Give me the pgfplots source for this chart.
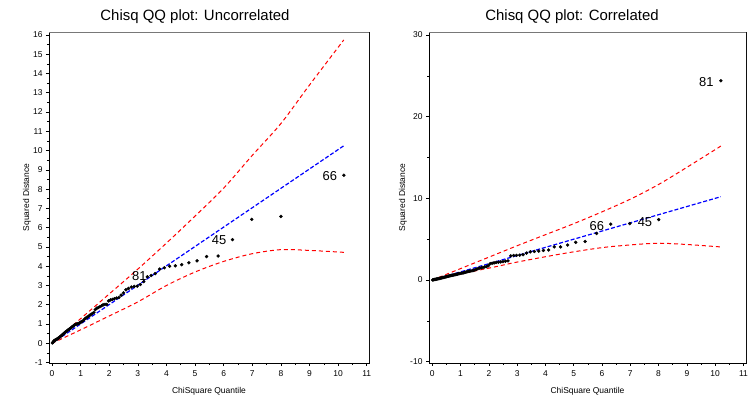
\documentclass[border=0pt]{standalone}
\usepackage{pgfplots}
\pgfplotsset{compat=1.18}
\usepackage{fontspec}
\setmainfont{Liberation Sans}
\definecolor{framegray}{RGB}{120,120,120}
\definecolor{qqred}{RGB}{255,0,0}
\definecolor{qqblue}{RGB}{0,0,255}
\pgfplotstableread{
x y
0.0125 0.02
0.037 0.06
0.062 0.12
0.087 0.15
0.113 0.17
0.139 0.19
0.165 0.21
0.192 0.24
0.219 0.27
0.247 0.30
0.274 0.33
0.302 0.37
0.331 0.40
0.360 0.44
0.389 0.48
0.419 0.52
0.450 0.56
0.480 0.60
0.512 0.63
0.543 0.67
0.576 0.71
0.608 0.74
0.642 0.78
0.676 0.82
0.710 0.87
0.745 0.90
0.781 0.95
0.817 0.98
0.854 1.00
0.892 1.01
0.930 1.03
0.970 1.06
1.010 1.10
1.050 1.14
1.092 1.18
1.135 1.25
1.178 1.30
1.222 1.35
1.268 1.40
1.315 1.45
1.362 1.50
1.411 1.55
1.461 1.60
1.512 1.75
1.565 1.82
1.619 1.86
1.674 1.90
1.732 1.95
1.790 2.00
1.851 2.02
1.914 2.02
1.978 2.20
2.045 2.25
2.114 2.28
2.185 2.32
2.259 2.35
2.336 2.38
2.416 2.50
2.499 2.62
2.586 2.78
2.677 2.85
2.773 2.92
2.873 2.95
2.978 2.97
3.089 3.05
3.207 3.20
3.332 3.45
3.465 3.52
3.608 3.62
3.762 3.85
3.929 3.92
4.111 4.00
4.311 4.02
4.533 4.08
4.784 4.18
5.070 4.28
5.404 4.50
5.805 4.53
6.308 5.38
6.981 6.43
8.003 6.58
10.200 8.72
}\uncorr
\pgfplotstableread{
x y
0.0125 0.01
0.037 0.03
0.062 0.05
0.087 0.07
0.113 0.09
0.139 0.11
0.165 0.13
0.192 0.15
0.219 0.17
0.247 0.19
0.274 0.21
0.302 0.24
0.331 0.26
0.360 0.29
0.389 0.31
0.419 0.34
0.450 0.36
0.480 0.39
0.512 0.42
0.543 0.45
0.576 0.48
0.608 0.50
0.642 0.53
0.676 0.56
0.710 0.58
0.745 0.61
0.781 0.64
0.817 0.67
0.854 0.70
0.892 0.73
0.930 0.76
0.970 0.79
1.010 0.82
1.050 0.85
1.092 0.88
1.135 0.92
1.178 0.96
1.222 1.00
1.268 1.05
1.315 1.08
1.362 1.10
1.411 1.14
1.461 1.18
1.512 1.25
1.565 1.32
1.619 1.40
1.674 1.46
1.732 1.50
1.790 1.55
1.851 1.60
1.914 1.65
1.978 1.75
2.045 2.00
2.114 2.05
2.185 2.10
2.259 2.15
2.336 2.18
2.416 2.22
2.499 2.25
2.586 2.30
2.677 2.35
2.773 2.95
2.873 3.00
2.978 3.02
3.089 3.05
3.207 3.10
3.332 3.30
3.465 3.45
3.608 3.50
3.762 3.55
3.929 3.62
4.111 3.68
4.311 4.05
4.533 4.05
4.784 4.28
5.070 4.62
5.404 4.72
5.805 5.70
6.308 6.85
6.981 6.92
8.003 7.40
10.200 24.40
}\corr
\pgfplotsset{
  qq/.style={
    scale only axis, height=331bp,
    tick align=outside, tick pos=left,
    major tick length=3bp, minor tick length=2bp,
    axis line style={black, line width=0.8bp},
    every tick/.style={black, line width=0.6bp},
    ticklabel style={font=\fontsize{8.5}{10}\selectfont},
    xticklabel style={yshift=-1.5bp},
    /pgf/number format/assume math mode=true,
    xtick={0,...,11}, minor x tick num=1,
    xlabel={ChiSquare Quantile}, ylabel={Squared Distance},
    xlabel style={font=\fontsize{8.5}{10}\selectfont, at={(rel axis cs:0.5,0)}, anchor=base, yshift=-30.5bp},
    ylabel style={font=\fontsize{8.5}{10}\selectfont, at={(rel axis cs:0,0.5)}, anchor=center, rotate=0},
  },
}
\tikzset{
  band/.style={qqred, line width=1bp, dash pattern=on 4bp off 3bp},
  ref/.style={qqblue, line width=1.2bp, dash pattern=on 4bp off 2bp},
  pts/.style={only marks, mark=*, mark size=1.5bp, black},
  lab/.style={anchor=east, font=\fontsize{13}{15}\selectfont, inner sep=0pt},
}
\begin{document}
\begin{tikzpicture}
\useasboundingbox (0,0) rectangle (755bp,400bp);
% left panel
\begin{axis}[qq, at={(49bp,37bp)}, anchor=south west, width=320bp,
  xmin=-0.105, xmax=11.08, ymin=-1.02, ymax=16.15,
  ytick={-1,0,...,16}, minor y tick num=1,
  ylabel style={yshift=22bp}]
\addplot[band, smooth] coordinates {(0,0) (1,1.28) (2,2.56) (3,3.85) (4,5.2) (5,6.6) (6,8.05) (7,9.75) (8,11.4) (9,13.4) (10.2,15.74)};
\addplot[band, smooth] coordinates {(0,0) (1,0.7) (2,1.42) (3,2.15) (4,3.0) (5,3.7) (6,4.25) (7,4.65) (8,4.86) (9,4.82) (10.2,4.72)};
\addplot[ref] coordinates {(0,0) (10.2,10.25)};
\addplot[pts] table {\uncorr};
\node[lab] at (axis cs:9.97,8.68) {66};
\node[lab] at (axis cs:6.1,5.34) {45};
\node[lab] at (axis cs:3.31,3.47) {81};
\draw[framegray, line width=0.8bp] (rel axis cs:0,1) -- (rel axis cs:1,1) -- (rel axis cs:1,0);
\end{axis}
% right panel
\begin{axis}[qq, at={(429bp,37bp)}, anchor=south west, width=317bp,
  xmin=-0.117, xmax=11.09, ymin=-10.16, ymax=30.37,
  ytick={-10,0,10,20,30}, minor y tick num=1,
  ylabel style={yshift=26bp}]
\addplot[band, smooth] coordinates {(0,0) (1,1.4) (2,2.8) (3,4.2) (4,5.55) (5,6.9) (6,8.35) (7,9.9) (8,11.7) (9,13.8) (10.2,16.4)};
\addplot[band, smooth] coordinates {(0,0) (1,0.75) (2.2,1.6) (3,2.2) (4.56,3.2) (5.75,3.85) (6.5,4.15) (7.9,4.5) (9,4.35) (10.2,4.05)};
\addplot[ref] coordinates {(0,0) (10.2,10.2)};
\addplot[pts] table {\corr};
\node[lab] at (axis cs:9.95,24.3) {81};
\node[lab] at (axis cs:6.08,6.66) {66};
\node[lab] at (axis cs:7.78,7.07) {45};
\draw[framegray, line width=0.8bp] (rel axis cs:0,1) -- (rel axis cs:1,1) -- (rel axis cs:1,0);
\end{axis}
\node[anchor=base, font=\fontsize{15}{18}\selectfont] at (195bp,379bp) {Chisq QQ plot: Uncorrelated};
\node[anchor=base, font=\fontsize{15}{18}\selectfont] at (572bp,379bp) {Chisq QQ plot: Correlated};
\end{tikzpicture}
\end{document}
